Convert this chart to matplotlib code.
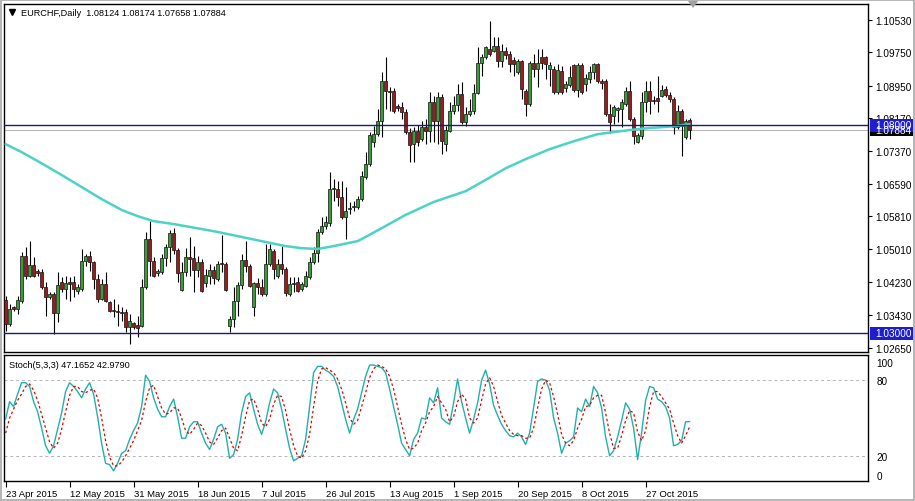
#!/usr/bin/env python3
# -*- encoding: utf-8 -*-

import matplotlib
matplotlib.use('Agg')
import matplotlib.pyplot as plt
import matplotlib.transforms as mtransforms
from matplotlib.patches import Rectangle, Polygon

plt.rcParams['font.family'] = ['Liberation Sans', 'DejaVu Sans']

# daily candles, EURCHF (bar 0 = 23 Apr 2015)
opens = [
    1.0380, 1.0322, 1.0363, 1.0358, 1.0377, 1.0485, 1.0437, 1.0464, 1.0449, 1.0447,
    1.0411, 1.0387, 1.0394, 1.0348, 1.0423, 1.0406, 1.0423, 1.0423, 1.0401, 1.0406,
    1.0473, 1.0485, 1.0471, 1.0430, 1.0382, 1.0418, 1.0375, 1.0356, 1.0353, 1.0351,
    1.0351, 1.0315, 1.0324, 1.0320, 1.0317, 1.0411, 1.0526, 1.0473, 1.0444, 1.0447,
    1.0480, 1.0507, 1.0540, 1.0500, 1.0404, 1.0447, 1.0483, 1.0480, 1.0452, 1.0471,
    1.0420, 1.0437, 1.0452, 1.0430, 1.0468, 1.0466, 1.0317, 1.0334, 1.0377, 1.0416,
    1.0476, 1.0461, 1.0363, 1.0420, 1.0411, 1.0394, 1.0466, 1.0497, 1.0437, 1.0466,
    1.0454, 1.0394, 1.0420, 1.0423, 1.0406, 1.0413, 1.0435, 1.0471, 1.0492, 1.0543,
    1.0557, 1.0564, 1.0646, 1.0646, 1.0627, 1.0579, 1.0598, 1.0603, 1.0603, 1.0622,
    1.0675, 1.0706, 1.0759, 1.0778, 1.0809, 1.0905, 1.0881, 1.0881, 1.0845, 1.0843,
    1.0831, 1.0783, 1.0754, 1.0785, 1.0766, 1.0795, 1.0785, 1.0855, 1.0809, 1.0867,
    1.0754, 1.0785, 1.0833, 1.0848, 1.0874, 1.0807, 1.0826, 1.0833, 1.0876, 1.0948,
    1.0963, 1.0984, 1.0977, 1.0989, 1.0953, 1.0977, 1.0970, 1.0956, 1.0927, 1.0953,
    1.0881, 1.0850, 1.0948, 1.0934, 1.0963, 1.0963, 1.0934, 1.0934, 1.0879, 1.0929,
    1.0888, 1.0896, 1.0944, 1.0884, 1.0944, 1.0898, 1.0910, 1.0927, 1.0946, 1.0905,
    1.0905, 1.0826, 1.0821, 1.0836, 1.0838, 1.0850, 1.0881, 1.0814, 1.0759, 1.0773,
    1.0855, 1.0881, 1.0860, 1.0864, 1.0869, 1.0886, 1.0872, 1.0862, 1.0795, 1.0833,
    1.0771, 1.08124]
highs = [
    1.0389, 1.0370, 1.0365, 1.0389, 1.0495, 1.0507, 1.0521, 1.0483, 1.0454, 1.0454,
    1.0423, 1.0399, 1.0399, 1.0447, 1.0435, 1.0437, 1.0435, 1.0437, 1.0418, 1.0502,
    1.0490, 1.0497, 1.0473, 1.0442, 1.0430, 1.0447, 1.0377, 1.0382, 1.0370, 1.0363,
    1.0358, 1.0346, 1.0327, 1.0341, 1.0430, 1.0543, 1.0569, 1.0483, 1.0454, 1.0490,
    1.0514, 1.0548, 1.0552, 1.0504, 1.0471, 1.0504, 1.0531, 1.0509, 1.0485, 1.0478,
    1.0454, 1.0466, 1.0461, 1.0473, 1.0536, 1.0471, 1.0341, 1.0411, 1.0423, 1.0490,
    1.0521, 1.0466, 1.0423, 1.0432, 1.0430, 1.0514, 1.0514, 1.0502, 1.0478, 1.0509,
    1.0459, 1.0435, 1.0435, 1.0435, 1.0423, 1.0449, 1.0483, 1.0507, 1.0550, 1.0579,
    1.0581, 1.0687, 1.0670, 1.0665, 1.0665, 1.0651, 1.0615, 1.0617, 1.0629, 1.0689,
    1.0735, 1.0783, 1.0797, 1.0838, 1.0927, 1.0963, 1.0891, 1.0888, 1.0850, 1.0855,
    1.0838, 1.0792, 1.0795, 1.0800, 1.0809, 1.0814, 1.0879, 1.0869, 1.0879, 1.0874,
    1.0797, 1.0855, 1.0869, 1.0898, 1.0903, 1.0843, 1.0862, 1.0898, 1.0987, 1.0970,
    1.0989, 1.1049, 1.1011, 1.1011, 1.0994, 1.0987, 1.0977, 1.0963, 1.0958, 1.0956,
    1.0886, 1.0953, 1.0970, 1.0982, 1.0982, 1.0965, 1.0951, 1.0941, 1.0946, 1.0941,
    1.0905, 1.0941, 1.0946, 1.0948, 1.0948, 1.0922, 1.0941, 1.0948, 1.0948, 1.0910,
    1.0910, 1.0850, 1.0848, 1.0843, 1.0862, 1.0891, 1.0905, 1.0819, 1.0780, 1.0879,
    1.0905, 1.0905, 1.0869, 1.0917, 1.0896, 1.0893, 1.0879, 1.0867, 1.0848, 1.0838,
    1.0814, 1.08174]
lows = [
    1.0305, 1.0317, 1.0353, 1.0346, 1.0372, 1.0430, 1.0435, 1.0435, 1.0437, 1.0406,
    1.0341, 1.0382, 1.0298, 1.0327, 1.0399, 1.0382, 1.0377, 1.0387, 1.0394, 1.0401,
    1.0461, 1.0449, 1.0406, 1.0375, 1.0380, 1.0375, 1.0351, 1.0339, 1.0317, 1.0329,
    1.0303, 1.0274, 1.0310, 1.0291, 1.0315, 1.0406, 1.0437, 1.0435, 1.0437, 1.0442,
    1.0461, 1.0471, 1.0490, 1.0423, 1.0401, 1.0437, 1.0437, 1.0399, 1.0435, 1.0399,
    1.0411, 1.0418, 1.0418, 1.0425, 1.0447, 1.0401, 1.0303, 1.0315, 1.0341, 1.0406,
    1.0447, 1.0411, 1.0341, 1.0394, 1.0389, 1.0389, 1.0461, 1.0430, 1.0432, 1.0442,
    1.0389, 1.0389, 1.0399, 1.0399, 1.0401, 1.0411, 1.0430, 1.0466, 1.0471, 1.0538,
    1.0550, 1.0557, 1.0617, 1.0605, 1.0574, 1.0526, 1.0586, 1.0593, 1.0598, 1.0617,
    1.0670, 1.0701, 1.0747, 1.0773, 1.0771, 1.0838, 1.0833, 1.0828, 1.0833, 1.0814,
    1.0778, 1.0711, 1.0711, 1.0749, 1.0761, 1.0754, 1.0759, 1.0759, 1.0754, 1.0730,
    1.0737, 1.0783, 1.0826, 1.0833, 1.0802, 1.0797, 1.0821, 1.0826, 1.0874, 1.0917,
    1.0958, 1.0965, 1.0975, 1.0939, 1.0939, 1.0958, 1.0927, 1.0917, 1.0922, 1.0862,
    1.0821, 1.0845, 1.0915, 1.0891, 1.0934, 1.0910, 1.0893, 1.0874, 1.0874, 1.0874,
    1.0879, 1.0891, 1.0879, 1.0867, 1.0874, 1.0881, 1.0900, 1.0910, 1.0900, 1.0886,
    1.0821, 1.0780, 1.0802, 1.0807, 1.0795, 1.0845, 1.0809, 1.0754, 1.0756, 1.0766,
    1.0831, 1.0826, 1.0850, 1.0831, 1.0867, 1.0867, 1.0855, 1.0778, 1.0790, 1.0725,
    1.0766, 1.07658]
closes = [
    1.0322, 1.0358, 1.0358, 1.0380, 1.0485, 1.0437, 1.0464, 1.0437, 1.0444, 1.0411,
    1.0387, 1.0394, 1.0348, 1.0416, 1.0406, 1.0420, 1.0418, 1.0406, 1.0411, 1.0473,
    1.0485, 1.0471, 1.0430, 1.0382, 1.0418, 1.0377, 1.0353, 1.0353, 1.0351, 1.0348,
    1.0315, 1.0329, 1.0315, 1.0312, 1.0411, 1.0526, 1.0473, 1.0437, 1.0449, 1.0480,
    1.0507, 1.0540, 1.0500, 1.0444, 1.0447, 1.0483, 1.0478, 1.0452, 1.0471, 1.0401,
    1.0440, 1.0452, 1.0432, 1.0466, 1.0466, 1.0404, 1.0334, 1.0377, 1.0416, 1.0476,
    1.0461, 1.0413, 1.0420, 1.0411, 1.0394, 1.0466, 1.0502, 1.0454, 1.0466, 1.0454,
    1.0396, 1.0418, 1.0418, 1.0401, 1.0418, 1.0437, 1.0471, 1.0492, 1.0543, 1.0557,
    1.0567, 1.0646, 1.0648, 1.0627, 1.0579, 1.0593, 1.0600, 1.0605, 1.0622, 1.0677,
    1.0706, 1.0776, 1.0778, 1.0809, 1.0905, 1.0881, 1.0879, 1.0833, 1.0840, 1.0831,
    1.0783, 1.0752, 1.0785, 1.0759, 1.0795, 1.0785, 1.0855, 1.0809, 1.0867, 1.0761,
    1.0788, 1.0833, 1.0848, 1.0874, 1.0807, 1.0826, 1.0833, 1.0876, 1.0948, 1.0963,
    1.0987, 1.0970, 1.0989, 1.0953, 1.0977, 1.0968, 1.0946, 1.0946, 1.0953, 1.0886,
    1.0850, 1.0948, 1.0934, 1.0948, 1.0948, 1.0946, 1.0944, 1.0879, 1.0932, 1.0879,
    1.0898, 1.0915, 1.0884, 1.0944, 1.0879, 1.0912, 1.0927, 1.0946, 1.0905, 1.0900,
    1.0826, 1.0807, 1.0843, 1.0840, 1.0855, 1.0881, 1.0814, 1.0773, 1.0776, 1.0855,
    1.0881, 1.0857, 1.0857, 1.0857, 1.0884, 1.0872, 1.0862, 1.0795, 1.0833, 1.0797,
    1.0809, 1.07884]

ma_bars = [0, 4, 9, 14, 19, 24, 29, 33, 37, 42, 49, 53, 59, 65, 70, 74, 78,
           82, 88, 90, 94, 100, 107, 115, 120, 125, 130, 136, 142, 148, 156,
           160, 167, 171]
ma_values = [1.0754, 1.0735, 1.0708, 1.0680, 1.0651, 1.0622, 1.0596, 1.0581,
             1.0569, 1.0562, 1.0550, 1.0543, 1.0531, 1.0519, 1.0509, 1.0504,
             1.0502, 1.0509, 1.0521, 1.0531, 1.0552, 1.0584, 1.0615, 1.0641,
             1.0668, 1.0696, 1.0718, 1.0742, 1.0761, 1.0778, 1.0788, 1.0792,
             1.0797, 1.0802]

# Stoch(5,3,3)
stoch_main = [
    49, 63, 59, 69, 78, 78, 75, 63, 55, 42,
    28, 22, 28, 41, 54, 71, 78, 75, 71, 66,
    73, 78, 69, 51, 30, 14, 13, 8, 14, 22,
    24, 33, 40, 46, 59, 84, 79, 66, 57, 51,
    51, 59, 65, 51, 34, 34, 43, 47, 47, 38,
    30, 25, 33, 43, 45, 38, 18, 21, 33, 54,
    67, 70, 57, 45, 37, 47, 62, 73, 70, 57,
    41, 26, 16, 18, 20, 33, 59, 86, 91, 91,
    88, 86, 83, 75, 62, 49, 38, 49, 57, 70,
    83, 92, 92, 91, 90, 86, 73, 59, 45, 30,
    25, 20, 33, 38, 50, 49, 66, 62, 74, 50,
    47, 45, 62, 81, 63, 50, 38, 49, 62, 80,
    88, 77, 60, 52, 45, 40, 36, 35, 38, 35,
    29, 38, 58, 79, 81, 80, 72, 50, 38, 22,
    30, 32, 35, 58, 55, 65, 59, 75, 70, 58,
    35, 20, 24, 35, 48, 62, 57, 42, 17, 38,
    64, 75, 74, 65, 63, 59, 50, 28, 29, 32,
    47, 47.1652]
stoch_signal = [
    38, 50, 57, 64, 69, 75, 77, 72, 64, 53,
    42, 31, 26, 30, 41, 55, 68, 75, 75, 71,
    70, 72, 73, 66, 50, 32, 19, 12, 12, 15,
    20, 26, 32, 40, 48, 63, 74, 76, 67, 58,
    53, 54, 58, 58, 50, 40, 37, 41, 46, 44,
    38, 31, 29, 34, 40, 42, 34, 26, 24, 36,
    51, 64, 65, 57, 46, 43, 49, 61, 68, 67,
    56, 41, 28, 20, 18, 24, 37, 59, 79, 89,
    90, 88, 86, 81, 73, 62, 50, 45, 48, 59,
    70, 82, 89, 92, 91, 89, 83, 73, 59, 45,
    33, 25, 26, 30, 40, 46, 55, 59, 67, 62,
    57, 47, 51, 63, 69, 65, 50, 46, 50, 64,
    77, 82, 75, 63, 52, 46, 40, 37, 36, 36,
    34, 34, 42, 58, 73, 80, 78, 67, 53, 37,
    30, 28, 32, 42, 49, 59, 60, 66, 68, 68,
    54, 38, 26, 26, 36, 48, 56, 54, 39, 32,
    40, 59, 71, 71, 67, 62, 57, 46, 36, 30,
    36, 42.9790]

price_ticks = [1.10530, 1.09750, 1.08950, 1.08170, 1.07370, 1.06590,
               1.05810, 1.05010, 1.04230, 1.03430, 1.02650]
date_bars = [0, 16, 32, 48, 64, 80, 96, 112, 128, 144, 160]
date_labels = ['23 Apr 2015', '12 May 2015', '31 May 2015', '18 Jun 2015',
               '7 Jul 2015', '26 Jul 2015', '13 Aug 2015', '1 Sep 2015',
               '20 Sep 2015', '8 Oct 2015', '27 Oct 2015']
level_lines = [1.08000, 1.03000]
bid_price = 1.07884

bull = '#3c9c3c'
bear = '#9a1c1c'
navy = '#16168e'
label_blue = '#1e1ed0'

W, H = 915.0, 502.0


def px_box(left, top, right, bottom):
    return [left / W, 1 - bottom / H, (right - left) / W, (bottom - top) / H]


fig = plt.figure(figsize=(9.15, 5.02), dpi=100)
fig.patch.set_facecolor('white')
ax = fig.add_axes(px_box(4, 5, 868, 353))
ax2 = fig.add_axes(px_box(4, 356, 868, 482), sharex=ax)

idx = list(range(len(opens)))

# candles
ax.vlines(idx, lows, highs, color='black', linewidth=0.8, zorder=2)
bottoms = [min(o, c) for o, c in zip(opens, closes)]
heights = [max(abs(c - o), 0.00012) for o, c in zip(opens, closes)]
colors = [bull if c >= o else bear for o, c in zip(opens, closes)]
ax.bar(idx, heights, bottom=bottoms, width=0.72, color=colors,
       edgecolor='#111111', linewidth=0.5, zorder=3)

ax.plot(ma_bars, ma_values, color='#4dd2c6', linewidth=1.8, zorder=4,
        solid_capstyle='round')

for lvl in level_lines:
    ax.axhline(lvl, color=navy, linewidth=1.0, zorder=5)
ax.axhline(bid_price, color='#b8b8b8', linewidth=0.8, zorder=1)

ax.set_xlim(-0.4, 215.6)
ax.set_ylim(1.02544, 1.10910)
ax.yaxis.tick_right()
ax.set_yticks(price_ticks)
ax.set_yticklabels(['%.5f' % p for p in price_ticks])
ax.tick_params(axis='y', length=3, width=0.8, pad=2, labelsize=7.2)
ax.tick_params(axis='x', bottom=False, labelbottom=False)
for sp in ax.spines.values():
    sp.set_linewidth(1.0)

# price boxes on the right scale
trans = mtransforms.blended_transform_factory(ax.transAxes, ax.transData)
half = 0.00156
for y, txt, fc in [(bid_price, '%.5f' % bid_price, 'black'),
                   (1.08000, '1.08000', label_blue),
                   (1.03000, '1.03000', label_blue)]:
    ax.add_patch(Rectangle((1.0023, y - half), 0.0500, 2 * half, transform=trans,
                           facecolor=fc, edgecolor='none', clip_on=False, zorder=6))
    ax.text(1.0081, y, txt, transform=trans, ha='left', va='center',
            fontsize=7.2, color='white', clip_on=False, zorder=7)

# chart header
ax.plot([0.0087], [0.977], marker='v', markersize=4, color='black',
        transform=ax.transAxes, clip_on=False)
ax.text(0.0195, 0.977, 'EURCHF,Daily  1.08124 1.08174 1.07658 1.07884',
        transform=ax.transAxes, fontsize=6.6, ha='left', va='center')

# stochastic panel
ax2.plot(idx, stoch_main, color='#20b2aa', linewidth=1.0, zorder=3)
ax2.plot(idx, stoch_signal, color='#e00000', linewidth=0.9,
         linestyle=(0, (2, 2)), zorder=4)
for lvl in [80, 20]:
    ax2.axhline(lvl, color='#b4b4b4', linewidth=0.7, linestyle=(0, (3, 3)), zorder=1)
ax2.set_ylim(0, 100)
ax2.yaxis.tick_right()
ax2.set_yticks([4.4, 20, 80, 94.3])
ax2.set_yticklabels(['0', '20', '80', '100'])
ax2.tick_params(axis='y', length=0, pad=6, labelsize=7.2)
ax2.set_xticks(date_bars)
ax2.set_xticklabels(date_labels, ha='left')
ax2.tick_params(axis='x', length=4, width=0.8, pad=1.5, labelsize=6.8,
                direction='out')
for sp in ax2.spines.values():
    sp.set_linewidth(1.0)
ax2.text(0.006, 0.925, 'Stoch(5,3,3) 47.1652 42.9790', transform=ax2.transAxes,
         fontsize=6.6, ha='left', va='center')

# window frame and chart shift marker
fig.add_artist(Rectangle((0.001, 0.002), 0.998, 0.996, transform=fig.transFigure,
                         fill=False, edgecolor='#a8a8a8', linewidth=1.2))
fig.add_artist(Polygon([(688 / W, 1 - 2 / H), (698 / W, 1 - 2 / H), (693 / W, 1 - 9 / H)],
                       closed=True, transform=fig.transFigure,
                       facecolor='#a0a0a0', edgecolor='none', zorder=10))

fig.savefig('out.png', dpi=100)
